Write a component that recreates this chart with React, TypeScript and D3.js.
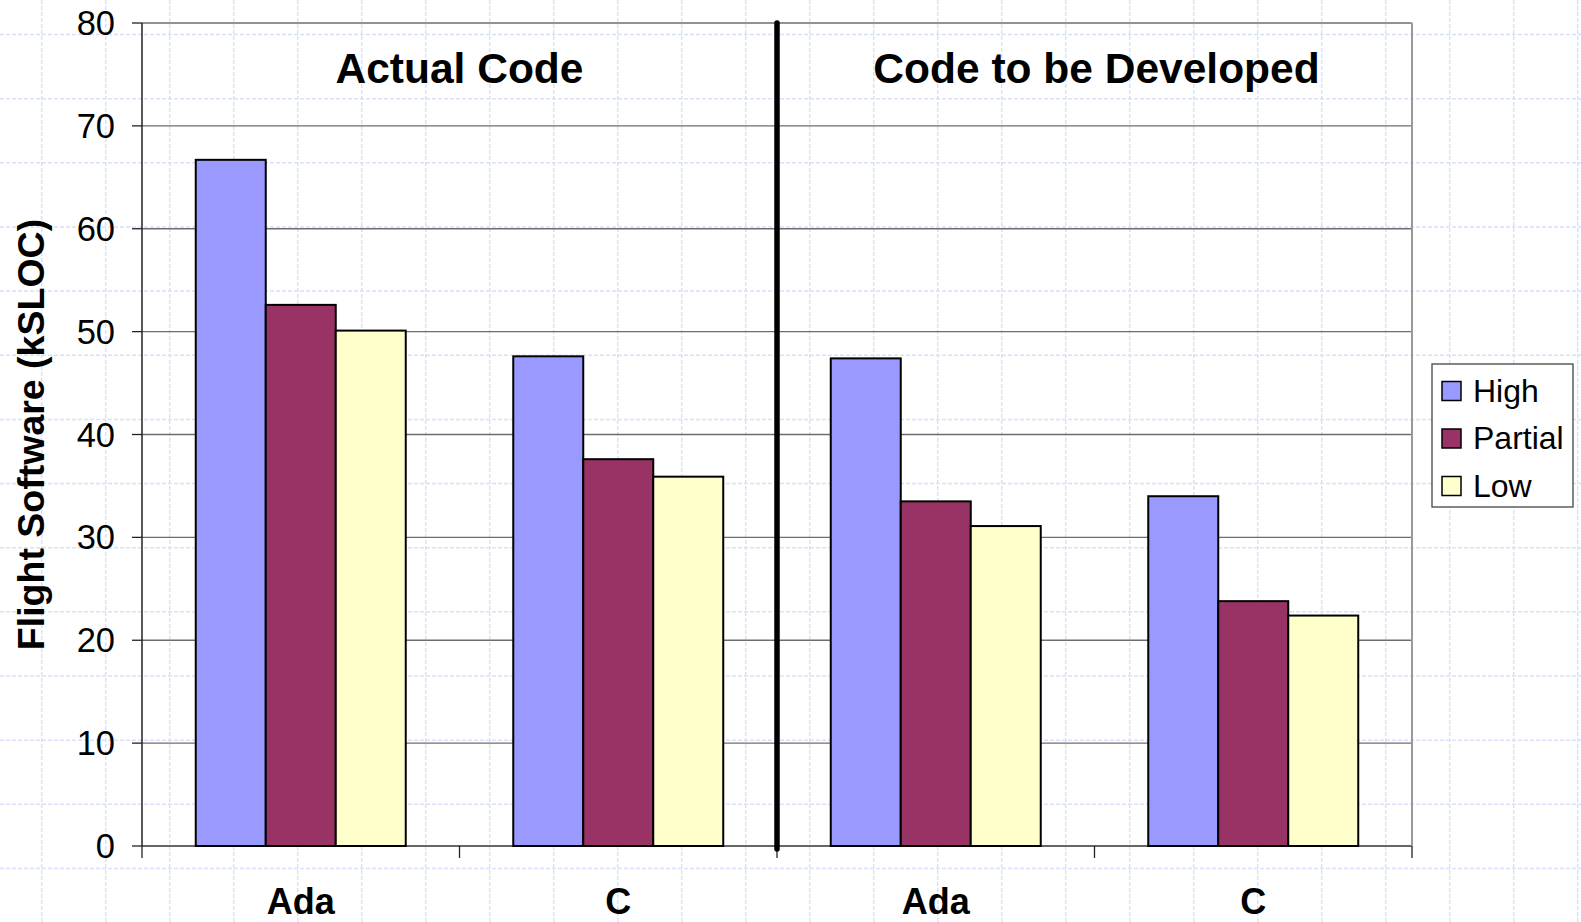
import React from "react";
import * as d3 from "d3";

const categories = ["Ada", "C", "Ada", "C"];
const sectionTitles = ["Actual Code", "Code to be Developed"];
const seriesNames = ["High", "Partial", "Low"];
const seriesColors = ["#9999FF", "#993366", "#FFFFCC"];
const highValues = [66.7, 47.6, 47.4, 34.0];
const partialValues = [52.6, 37.6, 33.5, 23.8];
const lowValues = [50.1, 35.9, 31.1, 22.4];
const yTicks = [0, 10, 20, 30, 40, 50, 60, 70, 80];

const W = 1581;
const H = 922;
const left = 142;
const right = 1412;
const top = 23;
const bottom = 846;

export default function App() {
  const series = [highValues, partialValues, lowValues];
  const y = d3.scaleLinear().domain([0, 80]).range([bottom, top]);
  const x = d3
    .scaleBand<number>()
    .domain(categories.map((_, i) => i))
    .range([left, right])
    .padding(0);
  const bw = x.bandwidth();
  const xs = d3
    .scaleBand<number>()
    .domain([0, 1, 2])
    .range([0, bw])
    .paddingInner(0)
    .paddingOuter(0.768);

  const gridX: number[] = [];
  for (let gx = 41.7; gx < W; gx += 64) gridX.push(gx);
  const gridY: number[] = [];
  for (let gy = 34.5; gy < H; gy += 64.15) gridY.push(gy);

  const midX = x(2)!;
  const font = "'Liberation Sans', Arial, sans-serif";

  return (
    <svg
      width={W}
      height={H}
      style={{ position: "absolute", left: 0, top: 0, background: "#fff" }}
      fontFamily={font}
    >
      <rect x={0} y={0} width={W} height={H} fill="#fff" />
      <g stroke="#d9e0f9" strokeWidth={1.5} strokeDasharray="4,2">
        {gridX.map((gx, i) => (
          <line key={"gx" + i} x1={gx} x2={gx} y1={0} y2={H} />
        ))}
        {gridY.map((gy, i) => (
          <line key={"gy" + i} x1={0} x2={W} y1={gy} y2={gy} />
        ))}
      </g>
      {yTicks.map((t) => (
        <line
          key={"h" + t}
          x1={left}
          x2={right}
          y1={y(t)}
          y2={y(t)}
          stroke={t === 0 ? "#333" : "#6e6e6e"}
          strokeWidth={t === 0 ? 1.5 : 1.3}
        />
      ))}
      <line x1={right} x2={right} y1={top} y2={bottom} stroke="#999" strokeWidth={2} />
      {categories.map((c, ci) =>
        series.map((vals, si) => (
          <rect
            key={ci + "-" + si}
            x={x(ci)! + xs(si)!}
            y={y(vals[ci])}
            width={xs.bandwidth()}
            height={y(0) - y(vals[ci])}
            fill={seriesColors[si]}
            stroke="#000"
            strokeWidth={2}
          />
        ))
      )}
      <line x1={left} x2={left} y1={top} y2={bottom} stroke="#222" strokeWidth={1.5} />
      {yTicks.map((t) => (
        <g key={"yt" + t}>
          <line x1={left - 10} x2={left} y1={y(t)} y2={y(t)} stroke="#222" strokeWidth={1.3} />
          <text
            x={115}
            y={y(t)}
            dy="0.35em"
            textAnchor="end"
            fontSize={34.5}
            fill="#000"
          >
            {t}
          </text>
        </g>
      ))}
      {[0, 1, 2, 3, 4].map((i) => {
        const tx = left + i * bw;
        return (
          <line key={"xt" + i} x1={tx} x2={tx} y1={bottom} y2={bottom + 12} stroke="#222" strokeWidth={1.3} />
        );
      })}
      {categories.map((c, ci) => (
        <text
          key={"cl" + ci}
          x={x(ci)! + bw / 2}
          y={914}
          textAnchor="middle"
          fontSize={36}
          fontWeight="bold"
          fill="#000"
        >
          {c}
        </text>
      ))}
      <line
        x1={midX}
        x2={midX}
        y1={top}
        y2={bottom + 3}
        stroke="#000"
        strokeWidth={5.5}
        strokeLinecap="round"
      />
      <text x={(left + midX) / 2} y={83} textAnchor="middle" fontSize={42.5} fontWeight="bold">
        {sectionTitles[0]}
      </text>
      <text x={(midX + right) / 2 + 2} y={83} textAnchor="middle" fontSize={42.5} fontWeight="bold">
        {sectionTitles[1]}
      </text>
      <text
        transform={`translate(44, ${(top + bottom) / 2}) rotate(-90)`}
        textAnchor="middle"
        fontSize={37.5}
        fontWeight="bold"
      >
        Flight Software (kSLOC)
      </text>
      <rect x={1432} y={364} width={141} height={143} fill="#fff" stroke="#444" strokeWidth={1.3} />
      {seriesNames.map((s, i) => (
        <g key={"lg" + i} transform={`translate(0, ${391 + i * 47.5})`}>
          <rect x={1442} y={-9.5} width={19} height={19} fill={seriesColors[i]} stroke="#000" strokeWidth={1.5} />
          <text x={1473} y={-1} dy="0.36em" fontSize={32} fill="#000">
            {s}
          </text>
        </g>
      ))}
    </svg>
  );
}
